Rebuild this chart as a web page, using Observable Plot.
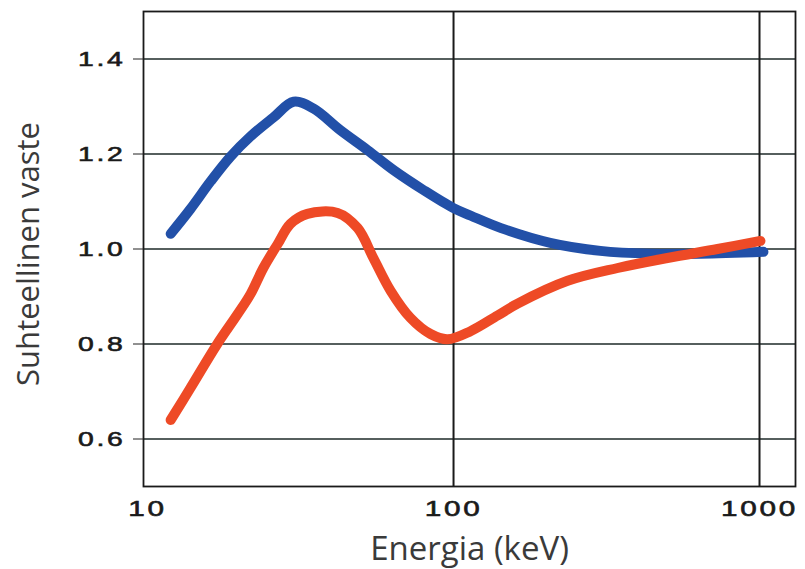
<!DOCTYPE html>
<html>
<head>
<meta charset="utf-8">
<script src="https://cdn.jsdelivr.net/npm/d3@7"></script>
<script src="https://cdn.jsdelivr.net/npm/@observablehq/plot@0.6"></script>
<style>
  html, body { margin: 0; padding: 0; background: #fff; }
  #chart svg { display: block; background: #fff; }
</style>
</head>
<body>
<div id="chart"></div>
<script>
// Blue curve (energy keV, relative response)
const blueEnergy = [11.9, 13.8, 16.1, 18.7, 21.7, 25.8, 30.0, 34.8, 42.7, 52.4, 63.7, 79.8, 100, 114, 143, 207, 302, 440, 641, 1030];
const blueResponse = [1.032, 1.084, 1.143, 1.195, 1.237, 1.277, 1.31, 1.296, 1.25, 1.208, 1.166, 1.124, 1.086, 1.07, 1.044, 1.013, 0.996, 0.99, 0.99, 0.994];
// Red curve
const redEnergy = [11.9, 13.8, 16.9, 19.7, 21.7, 23.9, 26.6, 29.3, 33.3, 41.8, 48.6, 54.8, 62.3, 72.3, 84.1, 95.5, 113.6, 139.3, 162, 236, 344, 500, 729, 1007];
const redResponse = [0.64, 0.707, 0.80, 0.863, 0.905, 0.96, 1.01, 1.053, 1.074, 1.076, 1.044, 0.98, 0.912, 0.855, 0.821, 0.81, 0.827, 0.86, 0.885, 0.933, 0.96, 0.981, 1.0, 1.017];

const xTicks = [10, 100, 1000];
const yTicks = [0.6, 0.8, 1.0, 1.2, 1.4];
const xLabel = "Energia (keV)";
const yLabel = "Suhteellinen vaste";

const blue = blueEnergy.map((e, i) => ({e, r: blueResponse[i]}));
const red = redEnergy.map((e, i) => ({e, r: redResponse[i]}));

const chart = Plot.plot({
  width: 805,
  height: 569,
  marginLeft: 143,
  marginRight: 10,
  marginTop: 11,
  marginBottom: 83,
  style: {background: "#fff"},
  x: {type: "log", domain: [9.7, 1311], ticks: xTicks, tickFormat: d => String(d), label: null},
  y: {domain: [0.5, 1.5], ticks: yTicks, tickFormat: d => d.toFixed(1), label: null},
  marks: [
    Plot.ruleY(yTicks, {stroke: "#1e2a28", strokeWidth: 1.7}),
    Plot.ruleX(xTicks.slice(1), {stroke: "#1a1a1a", strokeWidth: 2}),
    Plot.frame({stroke: "#1a1a1a", strokeWidth: 1.8}),
    Plot.axisY(yTicks, {tickSize: 10, tickPadding: 8, fontSize: 21, fill: "#1a1a1a", stroke: "#222", tickFormat: d => d.toFixed(1), fontFamily: "Liberation Sans"}),
    Plot.axisX(xTicks, {tickSize: 0, tickPadding: 14, fontSize: 22, fill: "#1a1a1a", tickFormat: d => String(d), fontFamily: "Liberation Sans"}),
    Plot.line(blue, {x: "e", y: "r", stroke: "#2250a8", strokeWidth: 10, curve: "catmull-rom", strokeLinecap: "round"}),
    Plot.line(red, {x: "e", y: "r", stroke: "#ee4a26", strokeWidth: 10, curve: "catmull-rom", strokeLinecap: "round"}),
    Plot.text([xLabel], {frameAnchor: "bottom", text: d => d, dy: 73, lineAnchor: "bottom", fontSize: 33, fontFamily: "Open Sans", fill: "#3a3a3a"}),
    Plot.text([yLabel], {frameAnchor: "left", textAnchor: "middle", text: d => d, dx: -114, dy: 5, rotate: -90, fontSize: 31, fontFamily: "Open Sans", fill: "#3a3a3a"})
  ]
});

// widen tick labels to mimic the stretched typeface
d3.select(chart).selectAll('g[aria-label="y-axis tick label"] text, g[aria-label="x-axis tick label"] text')
  .each(function() {
    const t = this.getAttribute("transform") || "";
    this.setAttribute("transform", t + " scale(1.35,1)");
    this.style.letterSpacing = "2px";
    this.style.stroke = "#1a1a1a";
    this.style.strokeWidth = "0.6px";
  });

document.getElementById("chart").appendChild(chart);
</script>
</body>
</html>
